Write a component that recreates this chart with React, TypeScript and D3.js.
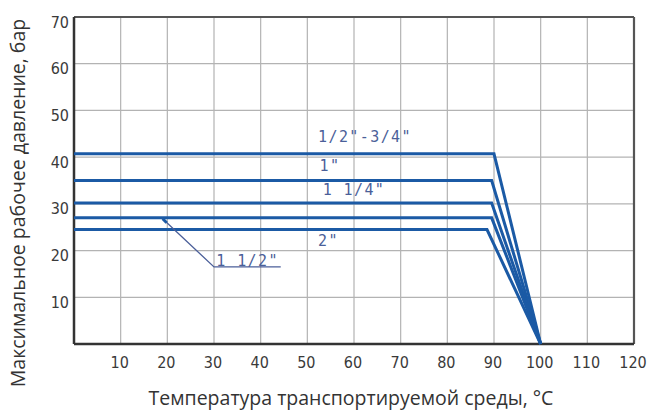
import * as d3 from 'd3';

// pipe sizes and the pressure plateau of each curve
const sizes = ['1/2"-3/4"', '1"', '1 1/4"', '1 1/2"', '2"'];
const pressures = [40.7, 35, 30.2, 27, 24.5];
const breakTemps = [90, 89.5, 89.5, 89.5, 88.5];
const zeroTemp = 100;

const xTicks = [10, 20, 30, 40, 50, 60, 70, 80, 90, 100, 110, 120];
const yTicks = [10, 20, 30, 40, 50, 60, 70];

// label anchors (temperature, pressure)
const labelTemps = [52.3, 52.6, 53.3, 30.5, 52.3];
const labelPressures = [43.2, 37, 32, 16.8, 21];
const leaderFrom = { t: 19, p: 26.8 };
const leaderTo = { t: 30, p: 16.5 };
const leaderEnd = 44.3;

const W = 655;
const H = 411;
const margin = { top: 17, right: 21, bottom: 67, left: 74 };

export default function App() {
  const iw = W - margin.left - margin.right;
  const ih = H - margin.top - margin.bottom;
  const x = d3.scaleLinear().domain([0, 120]).range([0, iw]);
  const y = d3.scaleLinear().domain([0, 70]).range([ih, 0]);

  const line = d3
    .line<[number, number]>()
    .x((d) => x(d[0]))
    .y((d) => y(d[1]));

  const blue = '#1b5aa5';
  const labelColor = '#4b5f99';
  const labelFont = '"DejaVu Sans Mono", monospace';
  const tickFont = '"DejaVu Sans Condensed", "Liberation Sans Narrow", sans-serif';

  return (
    <div style={{ position: 'fixed', left: 0, top: 0, width: W, height: H, background: '#fff' }}>
      <svg width={W} height={H} style={{ display: 'block' }}>
        <g transform={`translate(${margin.left},${margin.top})`}>
          {/* grid */}
          {xTicks.slice(0, -1).map((t) => (
            <line key={'gx' + t} x1={x(t)} x2={x(t)} y1={0} y2={ih} stroke="#b3b3b3" strokeWidth={1.2} />
          ))}
          {yTicks.slice(0, -1).map((t) => (
            <line key={'gy' + t} x1={0} x2={iw} y1={y(t)} y2={y(t)} stroke="#b3b3b3" strokeWidth={1.2} />
          ))}

          {/* frame */}
          <line x1={0} x2={iw} y1={0} y2={0} stroke="#555" strokeWidth={1.8} />
          <line x1={iw} x2={iw} y1={0} y2={ih} stroke="#555" strokeWidth={2.2} />
          <line x1={0} x2={0} y1={0} y2={ih} stroke="#333" strokeWidth={2.5} />
          <line x1={0} x2={iw} y1={ih} y2={ih} stroke="#333" strokeWidth={2.5} />

          {/* curves */}
          {sizes.map((s, i) => (
            <path
              key={s}
              d={line([
                [0, pressures[i]],
                [breakTemps[i], pressures[i]],
                [zeroTemp, 0],
              ]) ?? ''}
              fill="none"
              stroke={blue}
              strokeWidth={3}
              strokeLinejoin="miter"
            />
          ))}

          {/* labels */}
          {sizes.map((s, i) => (
            <text
              key={'l' + s}
              x={x(labelTemps[i])}
              y={y(labelPressures[i])}
              fill={labelColor}
              fontFamily={labelFont}
              fontSize={15}
              letterSpacing={1.4}
            >
              {s}
            </text>
          ))}

          {/* leader for 1 1/2" */}
          <path
            d={line([
              [leaderFrom.t, leaderFrom.p],
              [leaderTo.t, leaderTo.p],
              [leaderEnd, leaderTo.p],
            ]) ?? ''}
            fill="none"
            stroke={labelColor}
            strokeWidth={1.3}
          />
          <line
            x1={x(leaderFrom.t)}
            y1={y(leaderFrom.p)}
            x2={x(leaderFrom.t) + 4}
            y2={y(leaderFrom.p) + 4}
            stroke={blue}
            strokeWidth={3}
          />

          {/* y ticks */}
          {yTicks.map((t) => (
            <text
              key={'ty' + t}
              x={-5}
              y={y(t) + 5}
              dy="0.35em"
              textAnchor="end"
              fill="#3a3a3a"
              fontFamily={tickFont}
              fontSize={16}
            >
              {t}
            </text>
          ))}

          {/* x ticks */}
          {xTicks.map((t) => (
            <text
              key={'tx' + t}
              x={x(t) - 1}
              y={ih + 24}
              textAnchor="middle"
              fill="#3a3a3a"
              fontFamily={tickFont}
              fontSize={16}
            >
              {t}
            </text>
          ))}
        </g>

        <text
          x={351}
          y={405}
          textAnchor="middle"
          fill="#333"
          fontFamily='"Open Sans", sans-serif'
          fontSize={19.5}
        >
          Температура транспортируемой среды, °C
        </text>
        <text
          transform="translate(25,203) rotate(-90)"
          textAnchor="middle"
          fill="#333"
          fontFamily='"Open Sans", sans-serif'
          fontSize={19.5}
        >
          Максимальное рабочее давление, бар
        </text>
      </svg>
    </div>
  );
}
